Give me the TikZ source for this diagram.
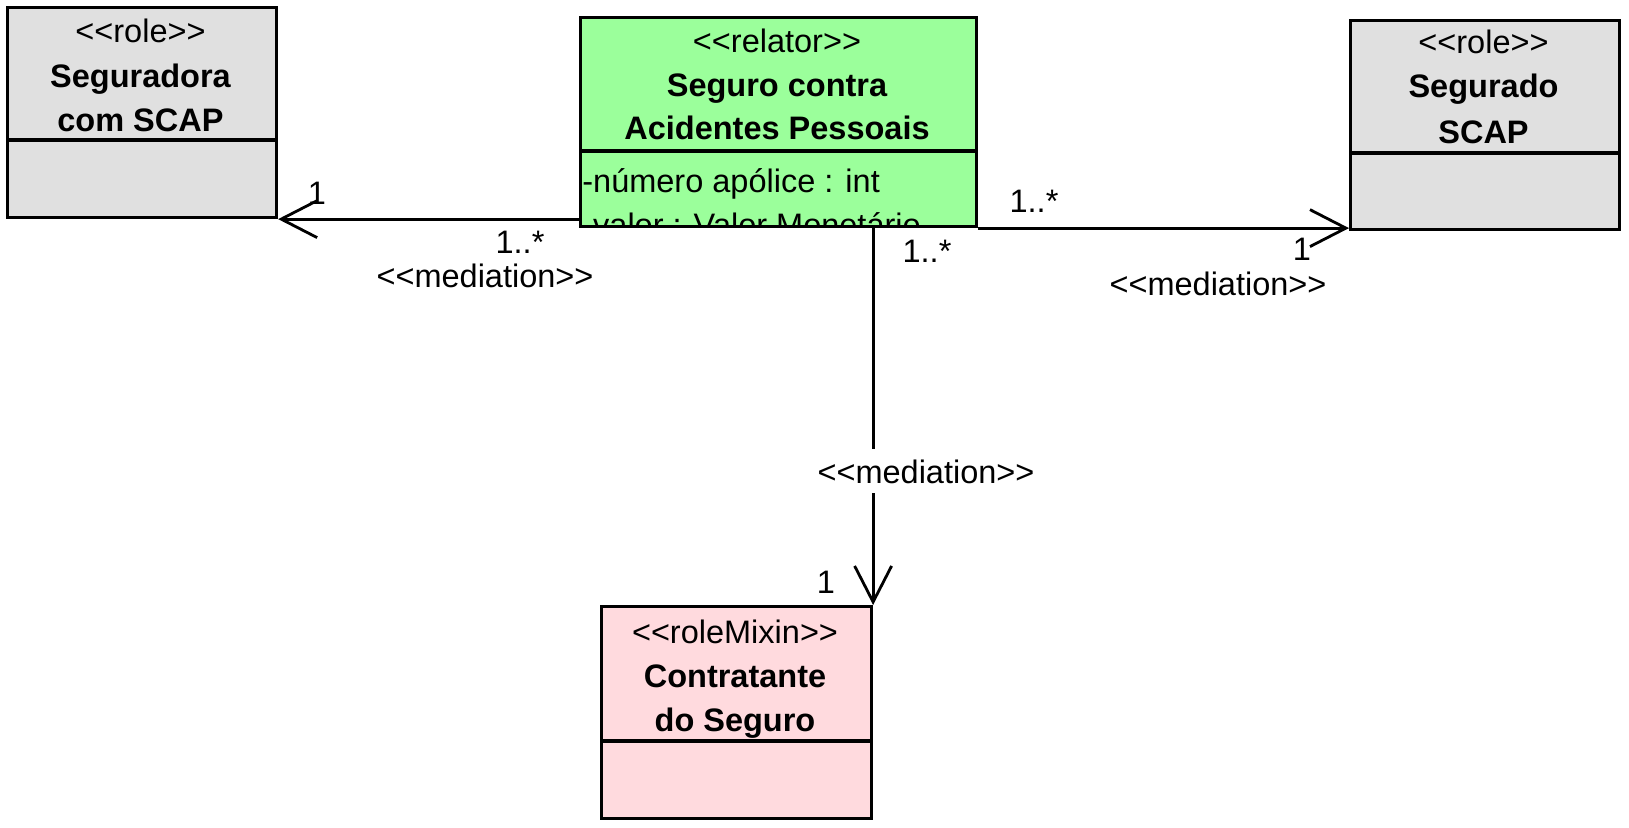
\documentclass[tikz,border=0pt]{standalone}
\usepackage{fontspec}
\setmainfont{Liberation Sans}
\usepackage[rgb]{xcolor}
\usepackage{tikz}
\usetikzlibrary{arrows.meta}

\definecolor{rolegray}{RGB}{224,224,224}
\definecolor{relatorgreen}{RGB}{155,255,155}
\definecolor{mixinpink}{RGB}{255,218,222}

\newcommand{\stereo}[1]{<\kern0pt<#1>\kern0pt>}

\begin{document}
\begin{tikzpicture}[x=0.02cm, y=-0.02cm,
  classbox/.style={draw, line width=1.8pt, inner sep=0pt, anchor=north west},
  txt/.style={anchor=base, inner sep=0pt, font=\fontsize{18.5}{22}\selectfont},
  boldtxt/.style={txt, font=\fontsize{18.5}{22}\selectfont\bfseries},
  mediation/.style={line width=1.6pt,
    -{Straight Barb[length=0.72cm, width=0.74cm, line width=1.6pt]}}]

\useasboundingbox (0,0) rectangle (1629,828);

% four class boxes of the OntoUML model
% grey roles left and right, green relator, pink roleMixin below

%% boxes
\node[classbox, fill=rolegray, minimum width=5.38cm, minimum height=4.2cm]
  (seguradora) at (6,6) {};
\node[classbox, fill=relatorgreen, minimum width=7.92cm, minimum height=4.18cm]
  (relator) at (579,16) {};
\node[classbox, fill=rolegray, minimum width=5.38cm, minimum height=4.18cm]
  (segurado) at (1349,19) {};
\node[classbox, fill=mixinpink, minimum width=5.4cm, minimum height=4.24cm]
  (contratante) at (600,605) {};

%% compartment lines
\foreach \b/\y in {seguradora/140, relator/151, segurado/153, contratante/741}
  \draw[line width=1.8pt] (\b.west |- 0,\y) -- (\b.east |- 0,\y);

%% names
\path
(140.5,43) node[txt] (seguradorast) {\stereo{role}}
(140.5,88) node[boldtxt] (seguradoraa) {Seguradora}
(140.5,132) node[boldtxt] (seguradorab) {com SCAP};

\path
(777,53) node[txt] (relatorst) {\stereo{relator}}
(777,96) node[boldtxt] (relatora) {Seguro contra}
(777,139) node[boldtxt] (relatorb) {Acidentes Pessoais};

\path
(1483.5,54) node[txt] (seguradost) {\stereo{role}}
(1483.5,98) node[boldtxt] (seguradoa) {Segurado}
(1483.5,143) node[boldtxt] (seguradob) {SCAP};

\path
(735,643) node[txt] (contratantest) {\stereo{roleMixin}}
(735,687) node[boldtxt] (contratantea) {Contratante}
(735,731) node[boldtxt] (contratanteb) {do Seguro};

%% attributes of the relator, second one cut by the box
\begin{scope}
  \clip (579,151) rectangle (975,224);
  \node[txt, anchor=base west] (numero) at (582,192) {-número apólice : int};
  \node[txt, anchor=base west] (valor) at (582,236) {-valor : Valor Monetário};
\end{scope}

%% mediations
\draw[mediation] (relator.west |- seguradora.south) -- (seguradora.south east);
\draw[mediation] (relator.south east) -- (segurado.west |- relator.south east);
\draw[mediation] (relator.south -| contratante.north east) -- (contratante.north east);

% multiplicities and stereotypes of the mediations
\path
(317,204) node[txt] (leftone) {1}
(520,253) node[txt] (leftmany) {1..*}
(485,287) node[txt] (leftmed) {\stereo{mediation}};

\path
(1034,212) node[txt] (rightmany) {1..*}
(1302,260) node[txt] (rightone) {1}
(1218,295) node[txt] (rightmed) {\stereo{mediation}};

\path
(927,262) node[txt] (downmany) {1..*}
(826,593) node[txt] (downone) {1}
(926,483) node[txt, fill=white, inner sep=0.2cm] (downmed) {\stereo{mediation}};

\end{tikzpicture}
\end{document}
